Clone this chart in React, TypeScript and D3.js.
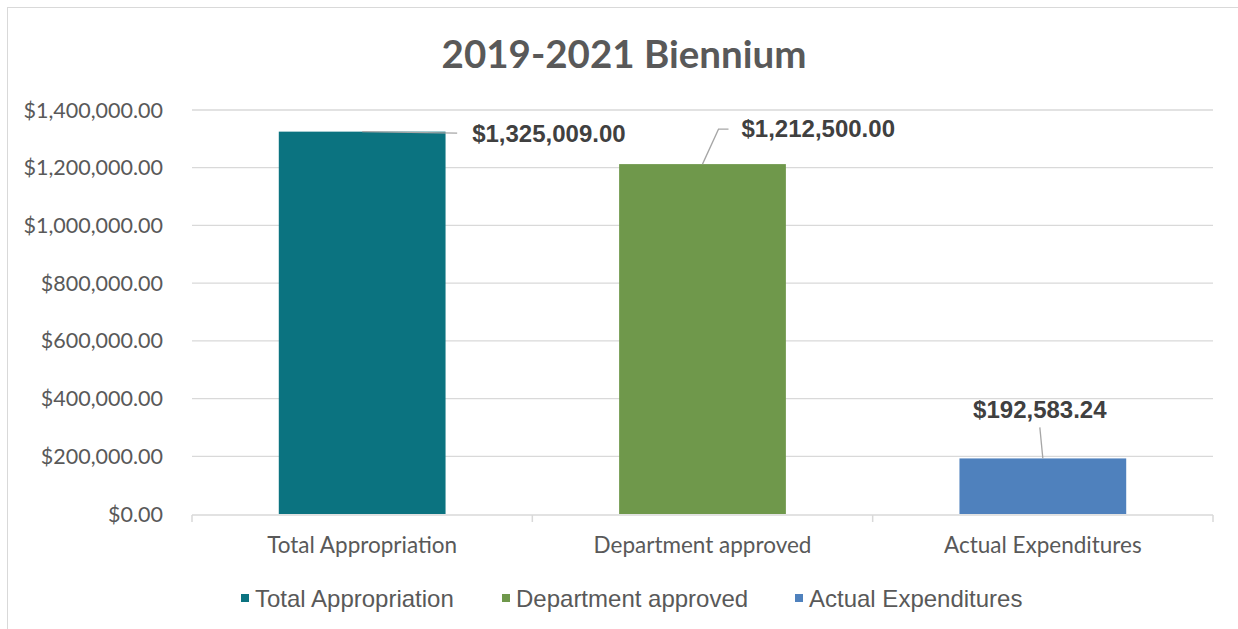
import React from "react";
import { scaleBand, scaleLinear, format } from "d3";

const categories = ["Total Appropriation", "Department approved", "Actual Expenditures"];
const values = [1325009.0, 1212500.0, 192583.24];
const colors = ["#0B7380", "#6F984B", "#4F81BD"];
const yTicks = [0, 200000, 400000, 600000, 800000, 1000000, 1200000, 1400000];

// hand-placed data label positions, relative to the top centre of each bar
const labelOffsets = [
  { dx: 110, dy: 10, anchor: "start", leader: [[0, 0], [95, 1.5]] },
  { dx: 39, dy: -27, anchor: "start", leader: [[0, 0], [16, -35], [26, -35]] },
  { dx: -3, dy: -40, anchor: "middle", leader: [[0, 0], [-3, -31]] },
];

const W = 1238;
const H = 629;
const margin = { left: 192, right: 25, top: 110, bottom: 115 };

const money = (v: number) => "$" + format(",.2f")(v);

export default function App() {
  const x = scaleBand<string>()
    .domain(categories)
    .range([margin.left, W - margin.right])
    .paddingInner(0.51)
    .paddingOuter(0.255);
  const xCat = scaleBand<string>().domain(categories).range([margin.left, W - margin.right]);
  const y = scaleLinear().domain([0, 1400000]).range([H - margin.bottom, margin.top]);

  const axisFont = "Lato, 'Open Sans', sans-serif";
  const arial = "'Liberation Sans', Arial, sans-serif";

  return (
    <svg width={W} height={H} style={{ position: "absolute", left: 0, top: 0, background: "#fff" }}>
      <rect x={7.5} y={7.5} width={W + 10} height={H + 10} fill="#fff" stroke="#d9d9d9" strokeWidth={1} />
      <text x={624} y={68} textAnchor="middle" fontFamily={axisFont} fontWeight={700} fontSize={38.5} fill="#595959">
        2019-2021 Biennium
      </text>

      {yTicks.map((t) => (
        <g key={t}>
          {t > 0 && (
            <line x1={margin.left} x2={W - margin.right} y1={y(t)} y2={y(t)} stroke="#d9d9d9" strokeWidth={1.3} />
          )}
          <text x={163} y={y(t) + 7.5} textAnchor="end" fontFamily={axisFont} fontSize={21.5} fill="#595959">
            {money(t)}
          </text>
        </g>
      ))}

      {categories.map((c, i) => (
        <rect key={c} x={x(c)} y={y(values[i])} width={x.bandwidth()} height={y(0) - y(values[i])} fill={colors[i]} />
      ))}

      <line x1={margin.left} x2={W - margin.right} y1={y(0) + 1} y2={y(0) + 1} stroke="#d9d9d9" strokeWidth={1.5} />
      {[...categories.map((c) => xCat(c) as number), W - margin.right].map((tx) => (
        <line key={tx} x1={tx} x2={tx} y1={y(0) + 1} y2={y(0) + 8} stroke="#d9d9d9" strokeWidth={1.5} />
      ))}
      {categories.map((c) => (
        <text
          key={c}
          x={(xCat(c) as number) + xCat.bandwidth() / 2}
          y={553}
          textAnchor="middle"
          fontFamily={axisFont}
          fontSize={22.5}
          fill="#595959"
        >
          {c}
        </text>
      ))}

      {categories.map((c, i) => {
        const cx = (x(c) as number) + x.bandwidth() / 2;
        const cy = y(values[i]);
        const o = labelOffsets[i];
        const pts = o.leader.map(([a, b]) => `${cx + a},${cy + b}`).join(" ");
        return (
          <g key={c}>
            <polyline points={pts} fill="none" stroke="#a6a6a6" strokeWidth={1.3} />
            <text
              x={cx + o.dx}
              y={cy + o.dy}
              textAnchor={o.anchor}
              fontFamily={arial}
              fontWeight={700}
              fontSize={24}
              fill="#404040"
            >
              {money(values[i])}
            </text>
          </g>
        );
      })}

      {categories.map((c, i) => {
        const lx = [241, 502, 795][i];
        return (
          <g key={c}>
            <rect x={lx} y={594} width={8} height={8} fill={colors[i]} />
            <text x={lx + 14} y={607} fontFamily={arial} fontSize={24} fill="#595959">
              {c}
            </text>
          </g>
        );
      })}
    </svg>
  );
}
